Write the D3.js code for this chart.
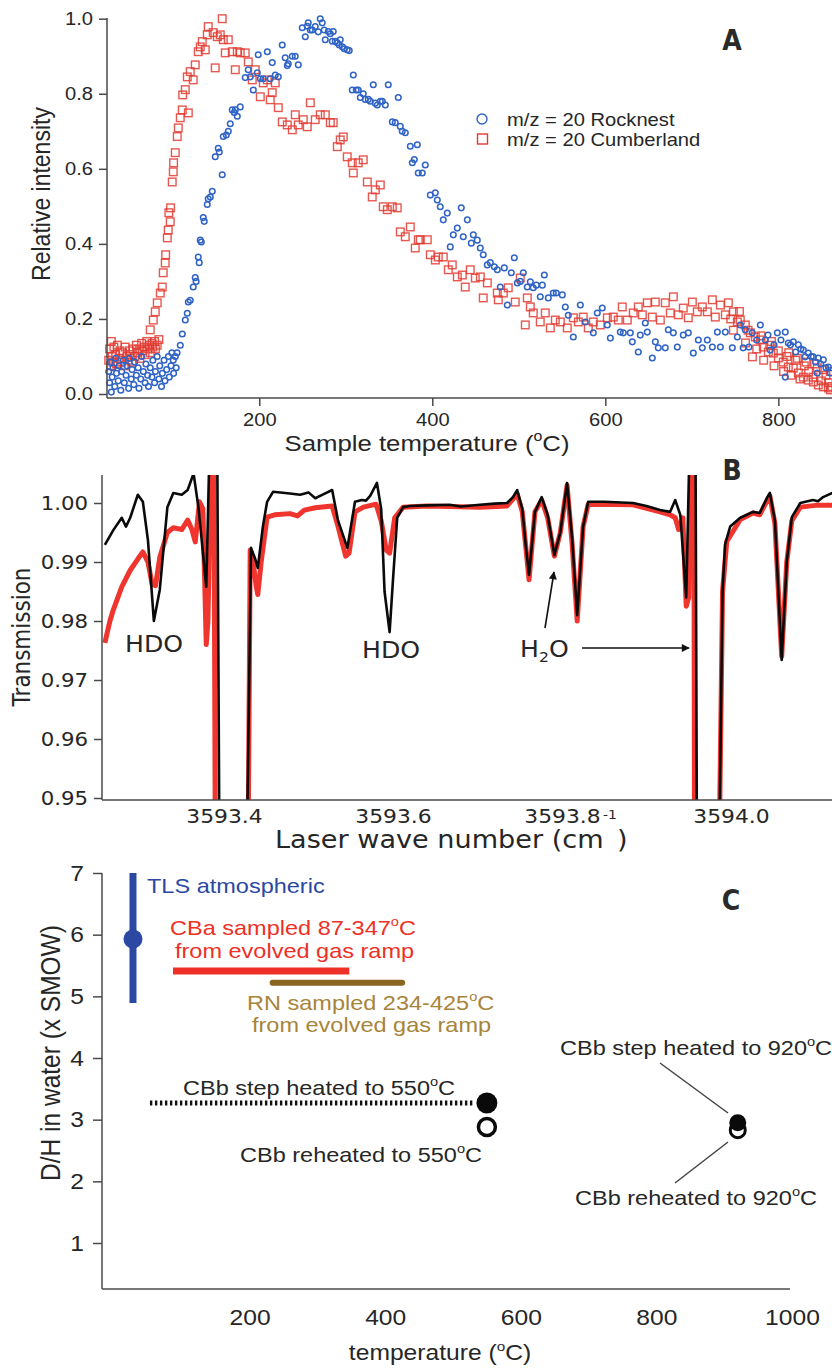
<!DOCTYPE html>
<html><head><meta charset="utf-8">
<script src="https://cdn.jsdelivr.net/npm/d3@7"></script>
<style>body{margin:0;background:#fff}svg{display:block}</style>
</head><body>
<svg id="c" width="832" height="1371"></svg>
<script>
// ---------------- Panel A data: m/z = 20 evolved gas ----------------
const rocknest = [
[26,0.06],[27,0.03],[28,0.085],[29,0.005],[30,0.045],[31,0.07],[33,0.02],[34,0.095],[35,0.055],[37,0.035],[38,0.075],[40,0.01],[41,0.06],[43,0.09],[44,0.03],[46,0.05],[47,0.075],[49,0.015],[50,0.095],[52,0.04],[53,0.065],[55,0.025],[56,0.085],[58,0.05],[60,0.07],[61,0.015],[63,0.04],[64,0.1],[66,0.06],[68,0.03],[69,0.08],[71,0.05],[72,0.02],[74,0.07],[76,0.045],[77,0.09],[79,0.03],[80,0.06],[82,0.1],[84,0.04],[85,0.075],[87,0.02],[88,0.055],[90,0.09],[91,0.035],[93,0.065],[95,0.1],[96,0.045],[98,0.075],[99,0.11],[101,0.055],[103,0.1],[104,0.07],
[100.6,0.09],[105,0.11],[108.7,0.13],[111,0.16],[114.5,0.197],[116.8,0.215],[118,0.245],[120.2,0.25],[123.7,0.285],[126,0.31],[127,0.30],[129.5,0.365],[130.6,0.35],[131.8,0.41],[133,0.405],[135.3,0.47],[136.4,0.46],[139.9,0.505],[141,0.52],[143.4,0.525],[145.7,0.54],[149.1,0.632],[152.6,0.655],[153.8,0.645],[157.2,0.584],[158.4,0.686],[161.9,0.69],[164.2,0.70],[166.5,0.72],[168.8,0.757],[171.1,0.75],[172.3,0.757],[174.6,0.74],[178,0.765],[183.8,0.843],[187.3,0.864],[189.6,0.845],[193.1,0.81],[197.7,0.856],[198.8,0.904],[201.2,0.84],[204.6,0.84],[209.3,0.912],[212.7,0.84],[215,0.883],[218.5,0.85],[222,0.845],[226.6,0.93],[230,0.896],[232.4,0.875],[233.5,0.88],[238.2,0.9],[241.6,0.9],[245.1,0.877],[249.7,0.976],[253.2,0.952],[255.5,0.98],[256.6,0.989],[259,0.97],[261.3,0.97],[264.7,0.979],[268.2,0.965],[270.5,1.0],[272.8,0.989],[275.1,0.97],[276.3,0.944],[279.8,0.966],[282.1,0.96],[284.4,0.94],[285.5,0.966],[287.9,0.94],[290.2,0.936],[292.5,0.93],[293.6,0.944],[296,0.925],[298.3,0.92],[301.7,0.917],[304,0.915],[307.5,0.81],[308.7,0.85],[312.1,0.81],[314.4,0.81],[316.8,0.79],[320.2,0.80],[322.5,0.785],[326,0.785],[328.3,0.78],[331.8,0.824],[334.1,0.775],[336.4,0.77],[339.9,0.78],[342.2,0.78],[345.7,0.77],[349.1,0.824],[353.8,0.725],[357.2,0.723],[360.7,0.79],[363,0.713],[365.3,0.70],[368.8,0.696],[374.6,0.66],[376.9,0.616],[379.2,0.625],[382.7,0.664],[383.8,0.589],[388.4,0.589],[391.9,0.61],[397.7,0.53],[403.5,0.536],[405.8,0.517],[409.2,0.499],[412.7,0.464],[417.3,0.482],[420.8,0.392],[424.3,0.424],[428.9,0.442],[433.5,0.496],[435.8,0.419],[440.5,0.464],[445.1,0.402],[447.4,0.424],[452,0.41],[455.5,0.389],[458.9,0.371],[463.6,0.344],[467,0.35],[471.7,0.339],[475.1,0.331],[478.6,0.285],[483.2,0.336],[486.7,0.237],[491.3,0.323],[494.8,0.363],[498.3,0.296],[501.7,0.30],[505.2,0.323],[509.8,0.285],[513.3,0.299],[516.7,0.283],[520.2,0.29],[524.8,0.259],[527.2,0.29],[529.5,0.317],[534.1,0.256],[539.9,0.269],[543.3,0.269],[550.3,0.264],[553.7,0.232],[557.2,0.21],[563,0.152],[571.1,0.237],[576.9,0.192],[586.1,0.163],[590.7,0.216],[596.5,0.229],[602.3,0.184],[605.8,0.149],[617.3,0.165],[620.8,0.163],[628.9,0.163],[631.2,0.139],[638.1,0.112],[640.4,0.157],[646.2,0.189],[648.5,0.165],[654.3,0.096],[657.8,0.139],[661.2,0.123],[669.3,0.123],[672.8,0.171],[678.6,0.163],[683.2,0.125],[690.1,0.157],[695.9,0.163],[701.7,0.109],[707.5,0.144],[712.1,0.123],[717.9,0.144],[723.7,0.125],[729.5,0.165],[733,0.125],[738.7,0.165],[746.8,0.123],[752.6,0.152],[756,0.184],[759.3,0.123],[761.8,0.171],[766,0.125],[769.9,0.163],[775,0.144],[779.2,0.184],[784.9,0.144],[788,0.157],[790.7,0.117],[795,0.131],[798.8,0.163],[803,0.144],[808,0.165],[811.5,0.136],[814,0.131],[817.3,0.139],[820,0.112],[823.1,0.131],[826,0.12],[828.9,0.117],[831,0.099],[834.6,0.109],[838,0.1],[840.4,0.099],[843,0.085],[846.2,0.096],[849,0.08],[852,0.091],[855,0.07],[857.8,0.072],[860.1,0.056],[808,0.045],[845,0.056]
];
const cumberland = [
[26,0.09],[27,0.12],[28,0.075],[29,0.14],[30,0.1],[31,0.085],[32,0.125],[34,0.105],[35,0.08],[36,0.13],[38,0.095],[39,0.115],[41,0.085],[42,0.11],[44,0.075],[45,0.125],[47,0.1],[48,0.09],[50,0.115],[51,0.105],[53,0.085],[54,0.12],[56,0.1],[58,0.13],[59,0.11],[61,0.12],[62,0.095],[64,0.135],[65,0.115],[67,0.125],[68,0.105],[70,0.14],[71,0.12],[73,0.13],[74,0.11],[76,0.135],[77,0.125],[79,0.14],[80,0.12],[82,0.13],[84,0.145],
[74,0.171],[77.5,0.197],[79.8,0.219],[82.1,0.243],[85.6,0.269],[87.9,0.285],[89,0.323],[91.3,0.349],[91.8,0.371],[93.7,0.416],[94.8,0.437],[97.1,0.459],[95.5,0.483],[97.5,0.496],[99.4,0.565],[100.6,0.592],[101,0.616],[102.9,0.643],[105.2,0.686],[106.4,0.709],[108.7,0.736],[111,0.757],[118,0.749],[111.5,0.797],[114.5,0.811],[116.8,0.845],[120.2,0.859],[123.7,0.837],[126,0.877],[129.5,0.912],[131.8,0.925],[134.1,0.939],[137.6,0.917],[139.9,0.957],[141,0.979],[146.8,0.963],[149.1,0.869],[151.5,0.952],[154.9,0.957],[157.2,1.0],[158.4,0.944],[160.7,0.909],[164.2,0.944],[168.8,0.912],[172.3,0.864],[174.6,0.912],[178,0.909],[183.8,0.909],[187.3,0.885],[191.9,0.837],[195.4,0.864],[201.2,0.792],[204.6,0.829],[209.3,0.837],[212.7,0.784],[215,0.803],[218.5,0.829],[222,0.763],[226.6,0.725],[232.4,0.717],[238.2,0.704],[241.6,0.744],[245.1,0.717],[250.9,0.731],[255.5,0.712],[259,0.776],[264.7,0.731],[270.5,0.744],[276.3,0.744],[282.1,0.723],[285.5,0.723],[290.2,0.659],[293.6,0.677],[297.1,0.685],[301.7,0.632],[307.5,0.616],[308.7,0.589],[314.4,0.616],[320.2,0.624],[324.9,0.565],[330.6,0.525],[334.1,0.544],[339.9,0.557],[343.3,0.499],[348,0.491],[353.8,0.499],[359.5,0.496],[363,0.432],[368.8,0.419],[374.6,0.445],[380.3,0.389],[383.8,0.411],[386.1,0.411],[394.2,0.411],[397.7,0.371],[403.5,0.357],[406.9,0.365],[412.7,0.365],[418.5,0.331],[423.1,0.344],[428.9,0.312],[434.7,0.317],[438.1,0.285],[443.9,0.331],[449.7,0.309],[455.5,0.312],[458.9,0.256],[463.6,0.296],[475.1,0.269],[476.3,0.251],[482.1,0.269],[487.8,0.283],[495.9,0.245],[501.7,0.309],[507.5,0.184],[509.8,0.256],[513.3,0.232],[516.7,0.216],[524.8,0.192],[530.6,0.216],[536.4,0.176],[542.2,0.197],[548,0.192],[556,0.176],[563,0.203],[568.8,0.192],[574.5,0.205],[580.3,0.176],[586.1,0.192],[594.2,0.184],[602.3,0.203],[609.2,0.205],[615,0.197],[619.6,0.232],[625.4,0.197],[632.3,0.216],[638.1,0.232],[642.8,0.211],[648.5,0.243],[654.3,0.205],[657.8,0.245],[663.6,0.197],[669.3,0.243],[675.1,0.216],[678.6,0.259],[684.4,0.211],[690.1,0.229],[695.9,0.203],[700.6,0.245],[706.3,0.219],[712.1,0.232],[717.9,0.219],[723.7,0.251],[727.1,0.205],[733,0.237],[738.7,0.211],[742.2,0.243],[748,0.219],[752.6,0.192],[756,0.197],[761.8,0.184],[767.6,0.163],[773.4,0.152],[779.2,0.144],[782.6,0.125],[788.4,0.112],[794.2,0.109],[800,0.096],[805.7,0.085],[811.5,0.072],[817.3,0.069],[823.1,0.056],[828.9,0.045],[834.6,0.037],[840.4,0.032],[846.2,0.024],[852,0.019],[857.8,0.016],[860.1,0.011],
[762,0.136],[770,0.099],[775,0.12],[783,0.09],[790,0.13],[795,0.075],[800,0.115],[806,0.06],[810,0.1],[815,0.05],[820,0.09],[825,0.04],[830,0.075],[835,0.06],[840,0.045],[845,0.07],[850,0.035],[855,0.05],[858,0.03],[860,0.06],[862,0.02],[765,0.17],[780,0.155],[792,0.14],[812,0.11],[822,0.095],[832,0.085],[842,0.08],[852,0.065],[748,0.17],[755,0.22],[745,0.2]
];
const legendA = ["m/z = 20 Rocknest", "m/z = 20 Cumberland"];
const ticksA_x = [200, 400, 600, 800];
const ticksA_y = [0, 0.2, 0.4, 0.6, 0.8, 1.0];

// ---------------- Panel B data: TLS spectra ----------------
const waveBlack = [3593.259,3593.269,3593.279,3593.284,3593.289,3593.298,3593.304,3593.310,3593.317,3593.324,3593.333,3593.340,3593.350,3593.357,3593.364,3593.370,3593.379,3593.383,3593.392,3593.395,3593.426,3593.432,3593.437,3593.440,3593.446,3593.451,3593.458,3593.478,3593.490,3593.500,3593.508,3593.518,3593.528,3593.535,3593.546,3593.555,3593.563,3593.568,3593.573,3593.581,3593.586,3593.590,3593.596,3593.600,3593.605,3593.612,3593.620,3593.640,3593.667,3593.680,3593.703,3593.720,3593.735,3593.742,3593.747,3593.753,3593.757,3593.761,3593.768,3593.776,3593.783,3593.791,3593.798,3593.806,3593.812,3593.818,3593.825,3593.831,3593.850,3593.884,3593.900,3593.916,3593.928,3593.934,3593.940,3593.947,3593.951,3593.958,3593.960,3593.985,3593.990,3593.993,3593.999,3594.011,3594.026,3594.034,3594.043,3594.046,3594.052,3594.060,3594.066,3594.072,3594.082,3594.097,3594.103,3594.109,3594.120];
const transBlack = [0.9929,0.9954,0.9975,0.9960,0.9975,1.0014,1.0002,0.9937,0.9800,0.9853,0.9993,1.0017,1.0014,1.0022,1.0050,0.9990,0.9858,1.0100,1.0100,0.9300,0.9300,0.9924,0.9905,0.9890,0.9960,1.0002,1.0019,1.0016,1.0014,1.0018,1.0008,1.0015,1.0022,0.9970,0.9924,1.0002,1.0005,1.0004,1.0012,1.0034,0.9990,0.9850,0.9781,0.9870,0.9975,0.9993,0.9995,0.9996,0.9997,0.9994,0.9997,0.9999,1.0000,1.0010,1.0022,0.9990,0.9930,0.9878,0.9985,1.0010,0.9980,0.9912,0.9950,1.0034,0.9940,0.9810,0.9960,1.0002,1.0002,1.0000,0.9995,0.9988,0.9985,1.0005,0.9980,0.9840,1.0100,1.0100,0.9300,0.9300,0.9850,0.9930,0.9960,0.9975,0.9985,0.9983,1.0010,1.0017,0.9970,0.9734,0.9900,0.9976,1.0000,1.0005,1.0003,1.0010,1.0017];
const waveRed = [3593.259,3593.265,3593.269,3593.279,3593.289,3593.298,3593.304,3593.310,3593.315,3593.319,3593.324,3593.333,3593.340,3593.350,3593.357,3593.362,3593.366,3593.371,3593.375,3593.379,3593.381,3593.385,3593.388,3593.390,3593.428,3593.431,3593.434,3593.438,3593.440,3593.444,3593.451,3593.460,3593.478,3593.487,3593.495,3593.508,3593.528,3593.535,3593.544,3593.548,3593.555,3593.565,3593.580,3593.586,3593.592,3593.596,3593.602,3593.612,3593.640,3593.667,3593.703,3593.735,3593.747,3593.753,3593.761,3593.768,3593.776,3593.783,3593.791,3593.798,3593.806,3593.812,3593.818,3593.825,3593.831,3593.884,3593.916,3593.928,3593.934,3593.938,3593.943,3593.947,3593.950,3593.953,3593.956,3593.957,3593.985,3593.990,3593.995,3594.011,3594.026,3594.034,3594.043,3594.046,3594.052,3594.060,3594.066,3594.072,3594.082,3594.100,3594.120];
const transRed = [0.9763,0.9800,0.9819,0.9858,0.9886,0.9905,0.9917,0.9900,0.9862,0.9860,0.9908,0.9950,0.9958,0.9955,0.9971,0.9955,0.9934,1.0002,0.9990,0.9760,0.9800,1.0100,1.0100,0.9300,0.9300,0.9920,0.9905,0.9860,0.9845,0.9900,0.9976,0.9980,0.9982,0.9978,0.9988,0.9992,0.9995,0.9960,0.9910,0.9915,0.9985,0.9993,0.9998,0.9970,0.9920,0.9915,0.9975,0.9993,0.9995,0.9994,0.9993,0.9995,1.0015,0.9985,0.9870,0.9985,1.0005,0.9975,0.9910,0.9950,1.0030,0.9930,0.9800,0.9960,0.9998,0.9997,0.9985,0.9980,0.9975,0.9955,0.9975,0.9825,0.9840,1.0100,1.0100,0.9300,0.9300,0.9850,0.9935,0.9972,0.9983,0.9980,1.0005,1.0012,0.9965,0.9740,0.9900,0.9970,0.9993,0.9996,0.9996];
const ticksB_x = [3593.4, 3593.6, 3593.8, 3594.0];
const ticksB_y = [0.95, 0.96, 0.97, 0.98, 0.99, 1.00];

// ---------------- Panel C data: D/H in water ----------------
const tlsAtm = {t: 28, dh: 5.93, lo: 4.89, hi: 7.0};
const cbaRange = {t0: 87, t1: 347, dh: 5.41};
const rnRange = {t0: 234, t1: 425, dh: 5.22};
const cbbStep550 = {t: 550, dh: 3.27, tStart: 53};
const cbbReheat550 = {t: 550, dh: 2.88};
const cbbStep920 = {t: 920, dh: 2.95};
const cbbReheat920 = {t: 920, dh: 2.83};
const ticksC_x = [200, 400, 600, 800, 1000];
const ticksC_y = [1, 2, 3, 4, 5, 6, 7];

// ---------------- drawing ----------------
const svg = d3.select('#c');
const SX = 1.12;
const FA = '"Liberation Sans", Arial, Helvetica, sans-serif';
const FB = '"DejaVu Sans", Verdana, sans-serif';
const FL = '"Liberation Sans Narrow", "DejaVu Sans Condensed", "Liberation Sans", sans-serif';
const AX = '#4a4a4a', TXT = '#262626';

function txt(g, x, y, parts, o = {}) {
  const size = o.size || 20;
  const t = g.append('text')
    .attr('transform', `translate(${x},${y}) scale(${o.sx ?? SX},1)` + (o.rot ? ` rotate(${o.rot})` : ''))
    .attr('text-anchor', o.anchor || 'start')
    .attr('font-family', o.font || FA)
    .attr('font-size', size)
    .attr('fill', o.fill || TXT);
  if (o.weight) t.attr('font-weight', o.weight);
  if (typeof parts === 'string') parts = [[parts]];
  let shift = 0;
  parts.forEach(([s, k]) => {
    const target = k === 'sup' ? -size * 0.42 : k === 'sub' ? size * 0.22 : 0;
    const ts = t.append('tspan').attr('dy', target - shift).text(s);
    shift = target;
    if (k) ts.attr('font-size', size * 0.62);
  });
  return t;
}
function hline(g, x1, x2, y, w = 1.5) {
  g.append('line').attr('x1', x1).attr('x2', x2).attr('y1', y).attr('y2', y).attr('stroke', AX).attr('stroke-width', w);
}
function vline(g, x, y1, y2, w = 1.5) {
  g.append('line').attr('x1', x).attr('x2', x).attr('y1', y1).attr('y2', y2).attr('stroke', AX).attr('stroke-width', w);
}
function yAxis(g, scale, x, vals, fmt, size, tick, pad, font) {
  const a = g.append('g').attr('transform', `translate(${x},0)`)
    .call(d3.axisLeft(scale).tickValues(vals).tickFormat(fmt).tickSize(tick).tickPadding(pad));
  a.select('.domain').remove();
  a.selectAll('.tick line').attr('stroke', AX).attr('stroke-width', 1.5);
  a.selectAll('.tick text').attr('x', -(tick + pad) / SX).attr('transform', `scale(${SX},1)`)
    .attr('font-family', font).attr('font-size', size).attr('fill', TXT);
  return a;
}
function xAxis(g, scale, y, vals, fmt, size, tick, base, font) {
  const a = g.append('g').attr('transform', `translate(0,${y})`)
    .call(d3.axisBottom(scale).tickValues(vals).tickFormat(fmt).tickSize(tick));
  a.select('.domain').remove();
  a.selectAll('.tick line').attr('stroke', AX).attr('stroke-width', 1.5);
  a.selectAll('.tick text').attr('y', base).attr('dy', null).attr('transform', `scale(${SX},1)`)
    .attr('font-family', font).attr('font-size', size).attr('fill', TXT);
  return a;
}

// ===== Panel A =====
const gA = svg.append('g');
const xA = d3.scaleLinear().domain([24, 862]).range([107, 832]);
const yA = d3.scaleLinear().domain([0, 1]).range([394, 18.7]);
const BLUE = '#2f63c6', RED = '#e23a30';

gA.append('g').selectAll('rect').data(cumberland).join('rect')
  .attr('x', d => xA(d[0]) - 3.8).attr('y', d => yA(d[1]) - 3.8)
  .attr('width', 7.6).attr('height', 7.6)
  .attr('fill', 'none').attr('stroke', RED).attr('stroke-width', 1.4).attr('stroke-opacity', 0.85);
gA.append('g').selectAll('circle').data(rocknest).join('circle')
  .attr('cx', d => xA(d[0])).attr('cy', d => yA(d[1])).attr('r', 2.8)
  .attr('fill', 'none').attr('stroke', BLUE).attr('stroke-width', 1.5);

vline(gA, 107, 18, 398);
hline(gA, 107, 832, 398);
yAxis(gA, yA, 107, ticksA_y, d3.format('.1f'), 18, 8, 6, FA);
xAxis(gA, xA, 398, ticksA_x, d3.format('d'), 18, 8, 28, FA);
txt(gA, 50, 194, 'Relative intensity', {size: 23, anchor: 'middle', rot: -90});
txt(gA, 427, 451, [['Sample temperature ('], ['o', 'sup'], ['C)']], {size: 23, anchor: 'middle'});

// legend
gA.append('circle').attr('cx', 482).attr('cy', 119).attr('r', 5).attr('fill', 'none').attr('stroke', BLUE).attr('stroke-width', 1.4);
gA.append('rect').attr('x', 477.5).attr('y', 134).attr('width', 10).attr('height', 10).attr('fill', 'none').attr('stroke', RED).attr('stroke-width', 1.4);
txt(gA, 507, 126, legendA[0], {size: 18});
txt(gA, 507, 146, legendA[1], {size: 18});
txt(gA, 732, 50, 'A', {size: 28, weight: 'bold', font: FL, anchor: 'middle', sx: 1, fill: '#2a2a2a'});

// ===== Panel B =====
const gB = svg.append('g');
const xB = d3.scaleLinear().domain([3593.4, 3594.0]).range([224, 731]);
const yB = d3.scaleLinear().domain([0.95, 1.00]).range([798, 503]);
svg.append('defs').append('clipPath').attr('id', 'clipB')
  .append('rect').attr('x', 102).attr('y', 475).attr('width', 730).attr('height', 325);
const lineB = d3.line().x(d => xB(d[0])).y(d => yB(d[1]));
const redPts = waveRed.map((w, i) => [w, transRed[i]]);
const blackPts = waveBlack.map((w, i) => [w, transBlack[i]]);
const plotB = gB.append('g').attr('clip-path', 'url(#clipB)');
plotB.append('path').datum(redPts).attr('d', lineB).attr('fill', 'none')
  .attr('stroke', '#ee2a22').attr('stroke-width', 5).attr('stroke-linejoin', 'round').attr('stroke-opacity', 0.95);
plotB.append('path').datum(blackPts).attr('d', lineB).attr('fill', 'none')
  .attr('stroke', '#0a0a0a').attr('stroke-width', 2.6).attr('stroke-linejoin', 'round');

vline(gB, 102, 475, 800);
hline(gB, 102, 832, 800);
yAxis(gB, yB, 102, ticksB_y, d3.format('.2f'), 19, 8, 6, FB);
xAxis(gB, xB, 800, ticksB_x, d3.format('.1f'), 19.5, 0, 23, FB);
txt(gB, 30, 637, 'Transmission', {size: 21.5, anchor: 'middle', rot: -90, font: FB});
txt(gB, 275, 848, 'Laser wave number (cm', {size: 24.2, font: FB});
txt(gB, 603, 819, '-1', {size: 12.5, font: FB});
txt(gB, 617, 848, ')', {size: 24.2, font: FB});
txt(gB, 125, 652, 'HDO', {size: 22.5, font: FB});
txt(gB, 362, 658, 'HDO', {size: 22.5, font: FB});
txt(gB, 520, 657, [['H'], ['2', 'sub'], ['O']], {size: 22.5, font: FB});
const defs = svg.select('defs');
defs.append('marker').attr('id', 'arr').attr('viewBox', '0 0 10 10').attr('refX', 9).attr('refY', 5)
  .attr('markerWidth', 10).attr('markerHeight', 8).attr('markerUnits', 'userSpaceOnUse').attr('orient', 'auto')
  .append('path').attr('d', 'M0,0 L10,5 L0,10 Z').attr('fill', '#111');
gB.append('line').attr('x1', 545).attr('y1', 628).attr('x2', 554).attr('y2', 572)
  .attr('stroke', '#111').attr('stroke-width', 1.6).attr('marker-end', 'url(#arr)');
gB.append('line').attr('x1', 582).attr('y1', 648).attr('x2', 689).attr('y2', 648)
  .attr('stroke', '#111').attr('stroke-width', 1.6).attr('marker-end', 'url(#arr)');
txt(gB, 732, 480, 'B', {size: 28, weight: 'bold', font: FL, anchor: 'middle', sx: 1, fill: '#2a2a2a'});

// ===== Panel C =====
const gC = svg.append('g');
const xC = d3.scaleLinear().domain([0, 1000]).range([114, 792]);
const yC = d3.scaleLinear().domain([1, 7]).range([1243, 873]);
vline(gC, 102, 873, 1289);
hline(gC, 102, 790, 1289);
yAxis(gC, yC, 102, ticksC_y, d3.format('d'), 22, 9, 9, FA);
xAxis(gC, xC, 1289, ticksC_x, d3.format('d'), 22, 0, 36, FA);
txt(gC, 60, 1053, [['D/H in water (x SMOW)']], {size: 24.5, anchor: 'middle', rot: -90});
txt(gC, 440, 1360, [['temperature ('], ['o', 'sup'], ['C)']], {size: 22, anchor: 'middle'});

const BL = '#2b48a3', RD = '#ee3026', BR = '#8a6520', BRT = '#a8843a';
gC.append('line').attr('x1', xC(tlsAtm.t)).attr('x2', xC(tlsAtm.t)).attr('y1', yC(tlsAtm.hi)).attr('y2', yC(tlsAtm.lo))
  .attr('stroke', BL).attr('stroke-width', 7);
gC.append('circle').attr('cx', xC(tlsAtm.t)).attr('cy', yC(tlsAtm.dh)).attr('r', 9.5).attr('fill', BL);
txt(gC, 147, 893, 'TLS atmospheric', {size: 21, fill: BL});

gC.append('line').attr('x1', xC(cbaRange.t0)).attr('x2', xC(cbaRange.t1)).attr('y1', yC(cbaRange.dh)).attr('y2', yC(cbaRange.dh))
  .attr('stroke', RD).attr('stroke-width', 7);
txt(gC, 170, 935, [['CBa sampled 87-347'], ['o', 'sup'], ['C']], {size: 21, fill: RD});
txt(gC, 175, 958, 'from evolved gas ramp', {size: 21, fill: RD});

gC.append('line').attr('x1', xC(rnRange.t0)).attr('x2', xC(rnRange.t1)).attr('y1', yC(rnRange.dh)).attr('y2', yC(rnRange.dh))
  .attr('stroke', BR).attr('stroke-width', 6).attr('stroke-linecap', 'round');
txt(gC, 247, 1010, [['RN sampled 234-425'], ['o', 'sup'], ['C']], {size: 21, fill: BRT});
txt(gC, 252, 1032, 'from evolved gas ramp', {size: 21, fill: BRT});

gC.append('line').attr('x1', xC(cbbStep550.tStart)).attr('x2', xC(cbbStep550.t) - 12)
  .attr('y1', yC(cbbStep550.dh)).attr('y2', yC(cbbStep550.dh))
  .attr('stroke', '#111').attr('stroke-width', 5).attr('stroke-dasharray', '2.4,2.6');
gC.append('circle').attr('cx', xC(cbbStep550.t)).attr('cy', yC(cbbStep550.dh)).attr('r', 10.5).attr('fill', '#0a0a0a');
gC.append('circle').attr('cx', xC(cbbReheat550.t)).attr('cy', yC(cbbReheat550.dh)).attr('r', 8.5)
  .attr('fill', '#fff').attr('stroke', '#0a0a0a').attr('stroke-width', 3.5);
txt(gC, 183, 1095, [['CBb step heated to 550'], ['o', 'sup'], ['C']], {size: 21});
txt(gC, 240, 1162, [['CBb reheated to 550'], ['o', 'sup'], ['C']], {size: 21});

gC.append('circle').attr('cx', xC(cbbReheat920.t)).attr('cy', yC(cbbReheat920.dh)).attr('r', 7.5)
  .attr('fill', '#fff').attr('stroke', '#0a0a0a').attr('stroke-width', 3);
gC.append('circle').attr('cx', xC(cbbStep920.t)).attr('cy', yC(cbbStep920.dh)).attr('r', 8.5).attr('fill', '#0a0a0a');
gC.append('line').attr('x1', 660).attr('y1', 1063).attr('x2', 728).attr('y2', 1113).attr('stroke', '#444').attr('stroke-width', 1.5);
gC.append('line').attr('x1', 728).attr('y1', 1142).attr('x2', 675).attr('y2', 1183).attr('stroke', '#444').attr('stroke-width', 1.5);
txt(gC, 560, 1055, [['CBb step heated to 920'], ['o', 'sup'], ['C']], {size: 21});
txt(gC, 575, 1205, [['CBb reheated to 920'], ['o', 'sup'], ['C']], {size: 21});
txt(gC, 731, 910, 'C', {size: 28, weight: 'bold', font: FL, anchor: 'middle', sx: 1, fill: '#2a2a2a'});
</script>
</body></html>
